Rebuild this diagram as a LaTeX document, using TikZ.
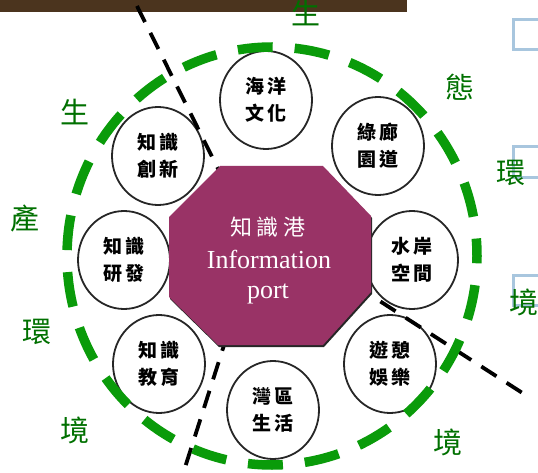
\documentclass[tikz,border=0pt]{standalone}
\usepackage{fontspec}
\setmainfont{Liberation Serif}
\newfontfamily\cjk{Noto Sans CJK TC}
\usetikzlibrary{shapes.geometric}
\definecolor{brownbar}{RGB}{75,52,30}
\definecolor{portfill}{RGB}{153,51,102}
\definecolor{ringgreen}{RGB}{10,155,10}
\definecolor{textgreen}{RGB}{0,112,0}
\definecolor{boxblue}{RGB}{168,198,222}
\tikzset{
  hub/.style={ellipse, draw=black!85, line width=1.8pt, fill=white,
    minimum width=92pt, minimum height=98pt, inner sep=0pt, align=center,
    font={\cjk\bfseries\fontsize{19}{27}\selectfont}},
  divider/.style={draw=black, line width=3.8pt, dash pattern=on 18pt off 12pt},
  ring/.style={draw=ringgreen, line width=9.5pt, dash pattern=on 35pt off 22pt, dash phase=17.5pt},
  zone/.style={text=textgreen, font={\cjk\fontsize{29}{29}\selectfont}, inner sep=0pt},
  bluebox/.style={draw=boxblue, line width=3pt},
  porttext/.style={text=white, inner sep=0pt}
}
\begin{document}
\begin{tikzpicture}[x=1pt,y=-1pt]
\useasboundingbox (0,0) rectangle (538,473);
\clip (0,0) rectangle (538,473);
% top bar and side boxes
\fill[brownbar] (0,0) rectangle (407,12);
\draw[bluebox] (513,20) rectangle (570,50);
\draw[bluebox] (513,147) rectangle (570,178);
\draw[bluebox] (513,275) rectangle (570,305);
% circles
\node[hub] (ocean) at (266,100) {海\kern4pt 洋\\文\kern4pt 化};
\node[hub] (green) at (378,146) {綠\kern4pt 廊\\園\kern4pt 道};
\node[hub] (water) at (412,260) {水\kern4pt 岸\\空\kern4pt 間};
\node[hub] (leisure) at (390,364) {遊\kern4pt 憩\\娛\kern4pt 樂};
\node[hub] (bay) at (273,410) {灣\kern4pt 區\\生\kern4pt 活};
\node[hub] (edu) at (159,364) {知\kern4pt 識\\教\kern4pt 育};
\node[hub] (rd) at (124,260) {知\kern4pt 識\\研\kern4pt 發};
\node[hub] (innov) at (158,156) {知\kern4pt 識\\創\kern4pt 新};
% dividing dashed lines
\coordinate (d1a) at (137,6);
\coordinate (d1b) at (256,245);
\coordinate (d1c) at (181,480);
\coordinate (d2a) at (330,269);
\coordinate (d2b) at (524,394);
\draw[divider] (d1a) -- (d1b) -- (d1c);
\draw[divider] (d2a) -- (d2b);
% octagon
\fill[black!85] (221,168) -- (324,168) -- (372,218) -- (372,294) -- (324,347) -- (219,347) -- (170,299) -- (170,219) -- cycle;
\fill[portfill] (220,166) -- (323,166) -- (371,216) -- (371,292) -- (323,345) -- (218,345) -- (169,297) -- (169,217) -- cycle;
\node[porttext, font={\cjk\fontsize{22}{22}\selectfont}] (portcjk) at (268,227) {知\kern5pt 識\kern5pt 港};
\node[porttext, font={\fontsize{26}{26}\selectfont}, anchor=base] (portinfo) at (269,268) {Information};
\node[porttext, font={\fontsize{26}{26}\selectfont}, anchor=base] (portword) at (268,298) {port};
% green ring
\draw[ring] (272,256) ellipse [x radius=205pt, y radius=209pt];
% green labels
\node[zone] (z1) at (306,13) {生};
\node[zone] (z2) at (460,87) {態};
\node[zone] (z3) at (511,173) {環};
\node[zone] (z4) at (524,302) {境};
\node[zone] (z5) at (448,442) {境};
\node[zone] (z6) at (75,112) {生};
\node[zone] (z7) at (25,218) {產};
\node[zone] (z8) at (37,332) {環};
\node[zone] (z9) at (75,430) {境};
\end{tikzpicture}
\end{document}
